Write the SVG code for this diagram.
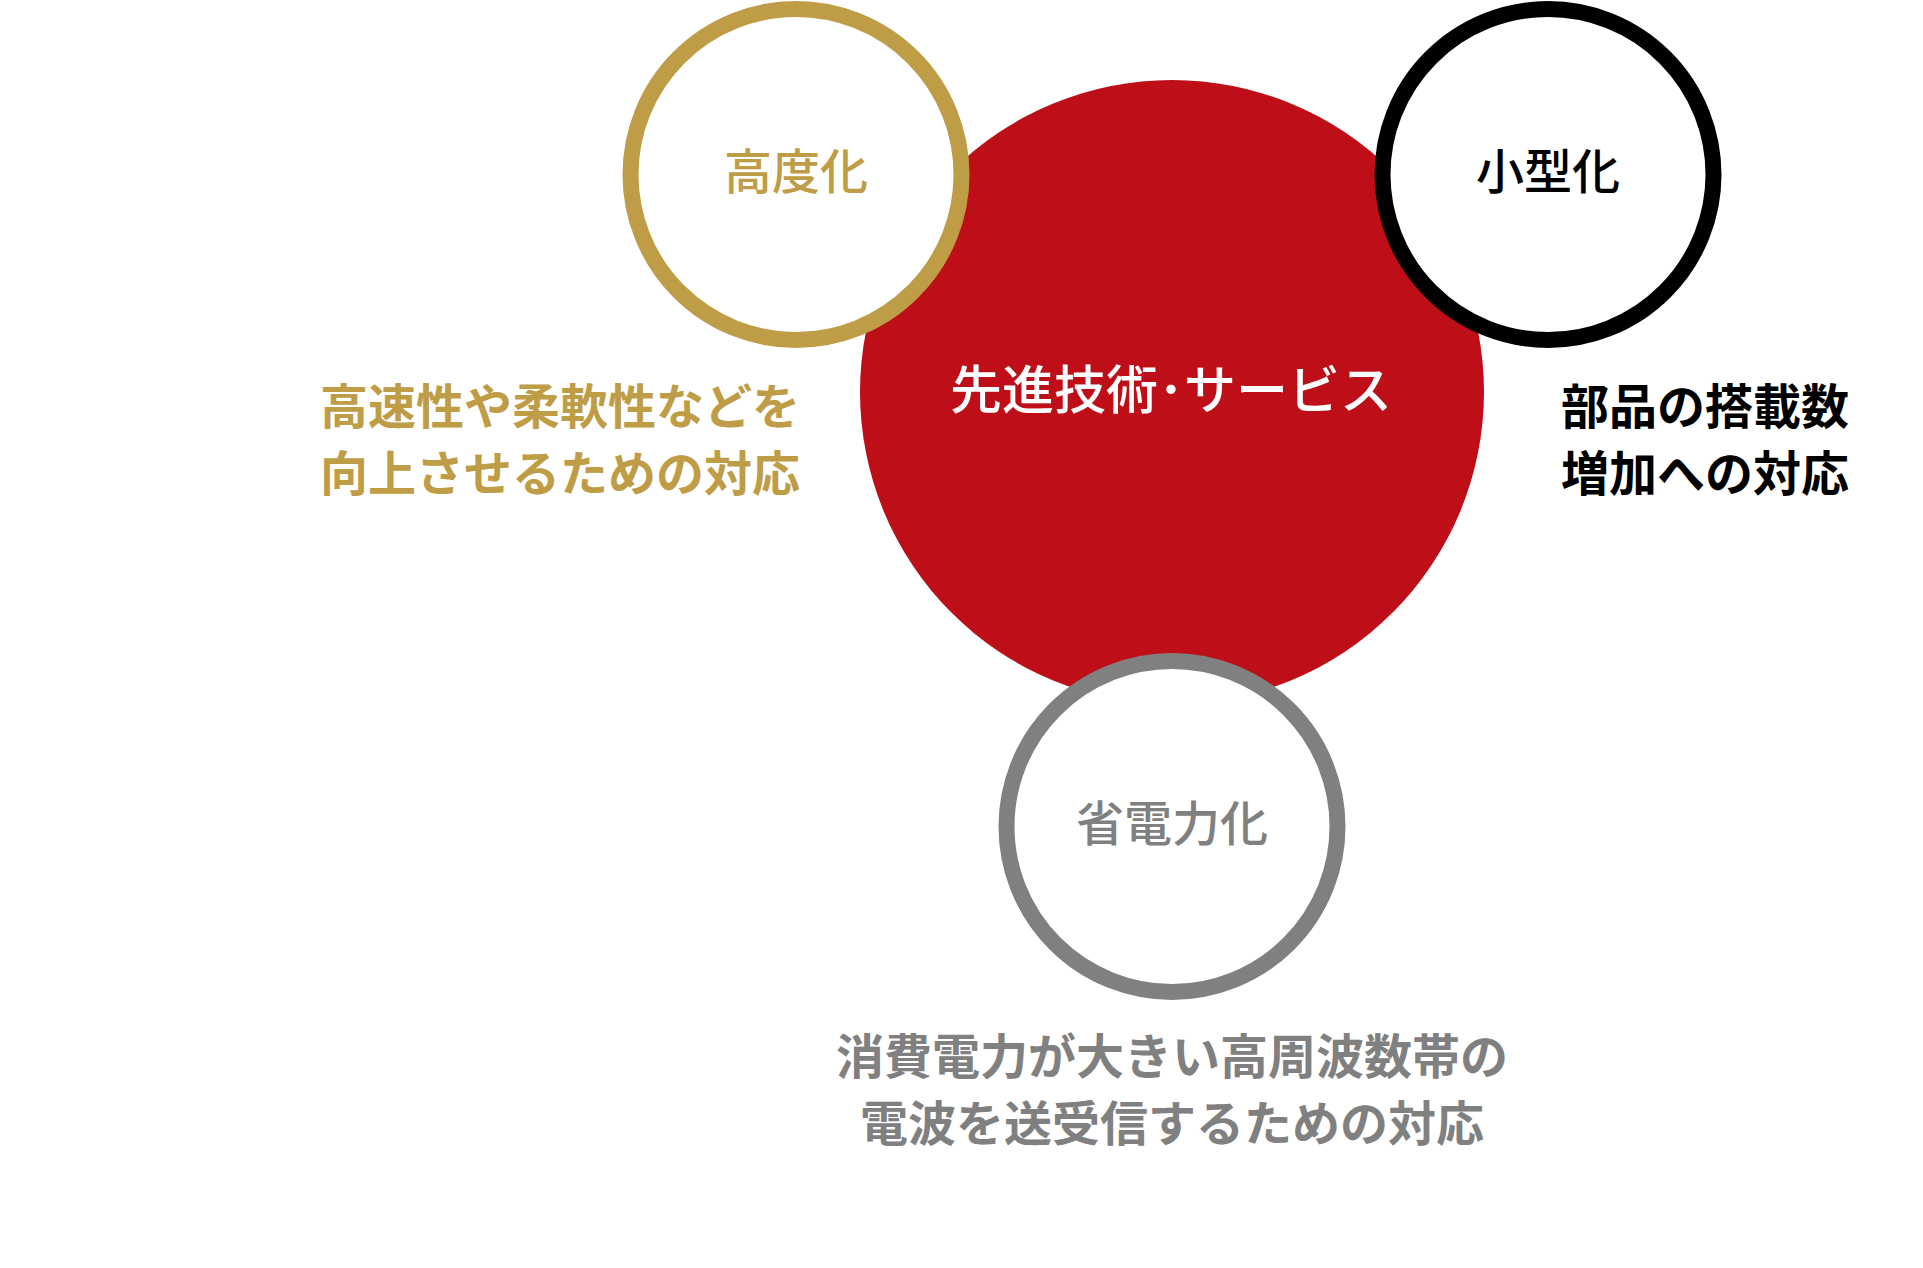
<svg xmlns="http://www.w3.org/2000/svg" width="1923" height="1268" viewBox="0 0 1923 1268">
<style>
text{font-family:"Noto Sans CJK JP","Noto Sans CJK SC",sans-serif;font-size:48px}
.ring{fill:#fff;stroke-width:16}
.lbl{font-weight:500;text-anchor:middle}
.desc{font-weight:700}
</style>
<rect width="1923" height="1268" fill="#fff"/>
<g id="connectors"></g>
<g id="core">
<circle cx="1172" cy="392" r="312" fill="#BE0E18"/>
<text class="lbl" x="1171" y="409" fill="#fff" style="font-size:52px">先進技術･サービス</text>
</g>
<g id="node-advanced">
<circle class="ring" cx="796" cy="174.5" r="165.5" stroke="#BF9C46"/>
<text class="lbl" x="796" y="189" fill="#BF9C46">高度化</text>
<text class="desc" x="320" y="424" fill="#BF9C46">高速性や柔軟性などを</text>
<text class="desc" x="320" y="491" fill="#BF9C46">向上させるための対応</text>
</g>
<g id="node-small">
<circle class="ring" cx="1548" cy="174.5" r="165.5" stroke="#000"/>
<text class="lbl" x="1548" y="189" fill="#000">小型化</text>
<text class="desc" x="1561" y="424" fill="#000">部品の搭載数</text>
<text class="desc" x="1561" y="491" fill="#000">増加への対応</text>
</g>
<g id="node-power">
<circle class="ring" cx="1172" cy="826.5" r="165.5" stroke="#808080"/>
<text class="lbl" x="1172" y="841" fill="#808080">省電力化</text>
<text class="desc" x="1172" y="1074" fill="#808080" text-anchor="middle">消費電力が大きい高周波数帯の</text>
<text class="desc" x="1172" y="1141" fill="#808080" text-anchor="middle">電波を送受信するための対応</text>
</g>
</svg>
